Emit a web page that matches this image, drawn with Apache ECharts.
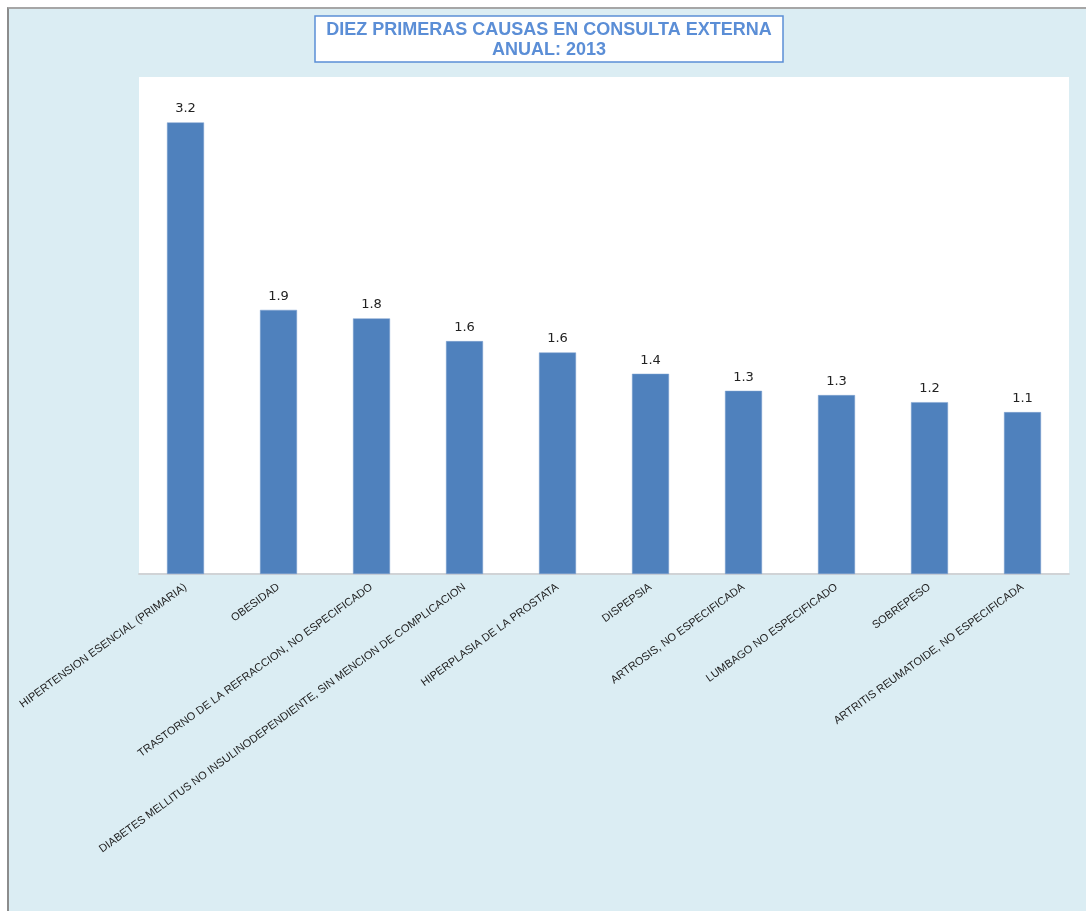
<!DOCTYPE html>
<html>
<head>
<meta charset="utf-8">
<script src="https://cdn.jsdelivr.net/npm/echarts@6/dist/echarts.min.js"></script>
<style>
  html, body { margin: 0; padding: 0; background: #fff; overflow: hidden; }
  #frame {
    position: absolute; left: 7px; top: 7px;
    width: 1077px; height: 902px;
    border-left: 2px solid #8c8c8c;
    border-top: 2px solid #a6a6a6;
    background: #dbedf3;
  }
  #chart { width: 1077px; height: 902px; }
</style>
</head>
<body>
<div id="frame"><div id="chart"></div></div>
<script>
// diez primeras causas, consulta externa 2013 (%)
var causas = [
  "HIPERTENSION ESENCIAL (PRIMARIA)",
  "OBESIDAD",
  "TRASTORNO DE LA REFRACCION, NO ESPECIFICADO",
  "DIABETES MELLITUS NO INSULINODEPENDIENTE, SIN MENCION DE COMPLICACION",
  "HIPERPLASIA DE LA PROSTATA",
  "DISPEPSIA",
  "ARTROSIS, NO ESPECIFICADA",
  "LUMBAGO NO ESPECIFICADO",
  "SOBREPESO",
  "ARTRITIS REUMATOIDE, NO ESPECIFICADA"
]
var porcentajes = [3.18, 1.86, 1.80, 1.64, 1.56, 1.41, 1.29, 1.26, 1.21, 1.14]
var tituloLineas = ["DIEZ PRIMERAS CAUSAS EN CONSULTA EXTERNA", "ANUAL: 2013"]

var chart = echarts.init(document.getElementById("chart"))
chart.setOption({
  animation: false,
  title: {
    text: tituloLineas.join("\n"),
    left: 528,
    top: 7,
    textAlign: "center",
    backgroundColor: "#fff",
    borderColor: "#5b8fd6",
    borderWidth: 1.5,
    padding: [4, 12, 2, 12],
    textStyle: {
      color: "#5b8ed6",
      fontFamily: "Liberation Sans, Arial, sans-serif",
      fontWeight: "bold",
      fontSize: 18,
      lineHeight: 20
    }
  },
  grid: {
    left: 130,
    right: 17,
    top: 68,
    bottom: 337,
    show: true,
    backgroundColor: "#fff",
    borderWidth: 0
  },
  xAxis: {
    type: "category",
    data: causas,
    axisTick: { show: false },
    axisLine: { lineStyle: { color: "#d0d3d6", width: 2 } },
    axisLabel: {
      interval: 0,
      rotate: 36,
      margin: 12,
      color: "#222",
      fontSize: 11,
      fontFamily: "Liberation Sans, Arial, sans-serif"
    }
  },
  yAxis: {
    type: "value",
    min: 0,
    max: 3.5,
    show: false,
    splitLine: { show: false }
  },
  series: [{
    type: "bar",
    data: porcentajes,
    barWidth: 37,
    itemStyle: { color: "#4f81bd", borderColor: "#7fa3d0", borderWidth: 0.5 },
    label: {
      show: true,
      position: "top",
      distance: 7,
      color: "#222",
      fontSize: 13,
      fontFamily: "DejaVu Sans, Verdana, sans-serif",
      formatter: function (p) { return p.value.toFixed(1) }
    }
  }]
})
</script>
</body>
</html>
